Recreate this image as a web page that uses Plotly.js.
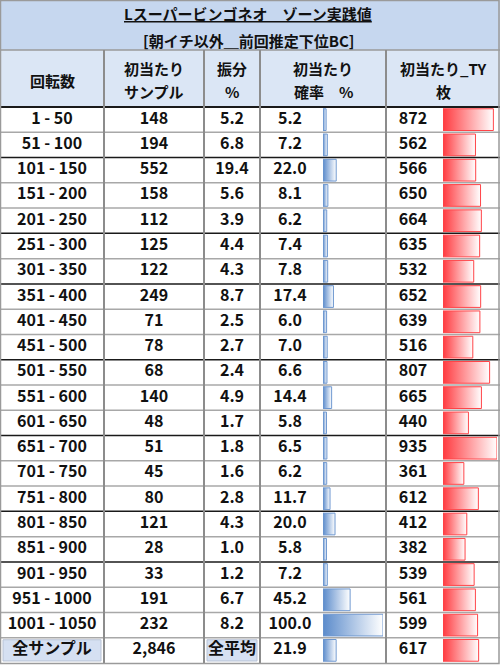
<!DOCTYPE html>
<html>
<head>
<meta charset="utf-8">
<script src="https://cdn.plot.ly/plotly-3.0.1.min.js"></script>
<style>
  html, body { margin: 0; padding: 0; background: #fff; }
  #chart { width: 500px; height: 665px; }
</style>
</head>
<body>
<div id="chart"></div>
<script>
const spins = ['1 - 50', '51 - 100', '101 - 150', '151 - 200', '201 - 250', '251 - 300', '301 - 350',
  '351 - 400', '401 - 450', '451 - 500', '501 - 550', '551 - 600', '601 - 650', '651 - 700',
  '701 - 750', '751 - 800', '801 - 850', '851 - 900', '901 - 950', '951 - 1000', '1001 - 1050'];
const samples = [148, 194, 552, 158, 112, 125, 122, 249, 71, 78, 68, 140, 48, 51, 45, 80, 121, 28, 33, 191, 232];
const share = [5.2, 6.8, 19.4, 5.6, 3.9, 4.4, 4.3, 8.7, 2.5, 2.7, 2.4, 4.9, 1.7, 1.8, 1.6, 2.8, 4.3, 1.0, 1.2, 6.7, 8.2];
const hitRate = [5.2, 7.2, 22.0, 8.1, 6.2, 7.4, 7.8, 17.4, 6.0, 7.0, 6.6, 14.4, 5.8, 6.5, 6.2, 11.7, 20.0, 5.8, 7.2, 45.2, 100.0];
const tyCoins = [872, 562, 566, 650, 664, 635, 532, 652, 639, 516, 807, 665, 440, 935, 361, 612, 412, 382, 539, 561, 599];

const totalLabel = '全サンプル';
const totalSamples = 2846;
const totalShareLabel = '全平均';
const totalRate = 21.9;
const totalTy = 617;

const titleText = 'Lスーパービンゴネオ　ゾーン実践値';
const subTitleText = '[朝イチ以外＿前回推定下位BC]';
const headers = [['回転数'], ['初当たり', 'サンプル'], ['振分', '%'], ['初当たり', '確率　%'], ['初当たり_TY', '枚']];

// layout (pixels)
const W = 500, H = 665;
const colEdges = [0, 104, 204, 260, 386, 500];
const colText = [52, 154, 232, 290, 413];
const rowTop = 107, rowBottom = 663, titleBottom = 50;
const darkRows = [2, 5, 7, 10, 13, 16, 18];
const py = p => 1 - p / H;
const FONT = 'Noto Sans CJK JP, Noto Sans, sans-serif';

const labels = spins.concat([totalLabel]);
const sampleText = samples.concat([totalSamples]).map(v => v.toLocaleString('en-US'));
const shareText = share.map(v => v.toFixed(1)).concat([totalShareLabel]);
const rates = hitRate.concat([totalRate]);
const tys = tyCoins.concat([totalTy]);
const n = labels.length;
const idx = labels.map((_, i) => i);

const data = [];

function textCol(c, txt) {
  data.push({
    type: 'scatter', mode: 'text', xaxis: 'x', yaxis: 'y',
    x: idx.map(() => colText[c]), y: idx, text: txt,
    textposition: 'middle center', hoverinfo: 'skip', showlegend: false,
    textfont: { family: FONT, size: 16, color: '#111', weight: 'bold' }
  });
}

// gradient data bars, one filled rect per row
function barCol(vals, xa, col, edge) {
  const h = 0.43;
  vals.forEach((v, i) => {
    data.push({
      type: 'scatter', mode: 'lines', xaxis: xa, yaxis: 'y',
      x: [0, v, v, 0, 0], y: [i - h, i - h, i + h, i + h, i - h],
      fill: 'toself',
      fillgradient: { type: 'horizontal', colorscale: [[0, col], [1, '#ffffff']] },
      line: { color: edge, width: 1 },
      hoverinfo: 'skip', showlegend: false
    });
  });
}

barCol(rates, 'x2', '#5b8bcb', '#6f98d0');
barCol(tys, 'x3', '#ff3a3f', '#ff4448');

textCol(0, labels);
textCol(1, sampleText);
textCol(2, shareText);
textCol(3, rates.map(v => v.toFixed(1)));
textCol(4, tys.map(String));

const shapes = [];
// title band and header row
shapes.push({ type: 'rect', xref: 'paper', yref: 'paper', x0: 0, x1: 1, y0: py(titleBottom), y1: py(0),
  fillcolor: '#c6d7ef', line: { width: 0 }, layer: 'below' });
shapes.push({ type: 'rect', xref: 'paper', yref: 'paper', x0: 0, x1: 1, y0: py(rowTop), y1: py(titleBottom),
  fillcolor: '#dbe6f5', line: { width: 0 }, layer: 'below' });
// shaded label cells in the total row
[0, 2].forEach(c => {
  shapes.push({ type: 'rect', xref: 'x', yref: 'y', x0: colEdges[c] + 3, x1: colEdges[c + 1] - 3,
    y0: n - 1 - 0.42, y1: n - 1 + 0.42, fillcolor: '#d5e0f2', line: { color: '#b8c2d4', width: 1 }, layer: 'below' });
});
// row lines
for (let i = 1; i < n; i++) {
  const dark = darkRows.indexOf(i) >= 0;
  shapes.push({ type: 'line', xref: 'paper', yref: 'y', x0: 0, x1: 1, y0: i - 0.5, y1: i - 0.5,
    line: { color: dark ? '#1a1a1a' : '#a8a8a8', width: 1.5 } });
}
shapes.push({ type: 'line', xref: 'paper', yref: 'paper', x0: 0, x1: 1, y0: py(titleBottom), y1: py(titleBottom),
  line: { color: '#9a9a9a', width: 1.5 } });
shapes.push({ type: 'line', xref: 'paper', yref: 'paper', x0: 0, x1: 1, y0: py(rowTop), y1: py(rowTop),
  line: { color: '#1a1a1a', width: 2 } });
// column lines
colEdges.slice(1, -1).forEach(x => {
  shapes.push({ type: 'line', xref: 'x', yref: 'paper', x0: x, x1: x, y0: py(rowBottom), y1: py(titleBottom),
    line: { color: '#8c8c8c', width: 2 } });
});
// outer frame
shapes.push({ type: 'rect', xref: 'paper', yref: 'paper', x0: 0.001, x1: 0.998, y0: py(rowBottom + 0.5), y1: py(0.5),
  line: { color: '#9a9a9a', width: 1.5 } });

const annotations = [];
function note(x, yPix, text, size) {
  annotations.push({ xref: 'x', yref: 'paper', x: x, y: py(yPix), text: text, showarrow: false,
    xanchor: 'center', yanchor: 'middle', align: 'center',
    font: { family: FONT, size: size, color: '#111', weight: 'bold' } });
}
note(248, 14, '<u>' + titleText + '</u>', 15);
note(248, 40, subTitleText, 15);
headers.forEach((lines, c) => {
  const cx = (colEdges[c] + colEdges[c + 1]) / 2;
  if (lines.length === 1) note(cx, 80, lines[0], 15);
  else { note(cx, 68, lines[0], 15); note(cx, 92, lines[1], 15); }
});

const hidden = { visible: false, fixedrange: true };
const layout = {
  width: W, height: H,
  margin: { l: 0, r: 0, t: 0, b: 0 },
  paper_bgcolor: '#ffffff', plot_bgcolor: 'rgba(0,0,0,0)',
  showlegend: false,
  xaxis: Object.assign({ domain: [0, 1], range: [0, W] }, hidden),
  xaxis2: Object.assign({ domain: [323 / W, 383 / W], range: [0, 100], anchor: 'y' }, hidden),
  xaxis3: Object.assign({ domain: [443 / W, 497 / W], range: [0, 935], anchor: 'y' }, hidden),
  yaxis: Object.assign({ domain: [py(rowBottom), py(rowTop)], range: [n - 0.5, -0.5] }, hidden),
  shapes: shapes,
  annotations: annotations
};

Plotly.newPlot('chart', data, layout, { staticPlot: true });
</script>
</body>
</html>
